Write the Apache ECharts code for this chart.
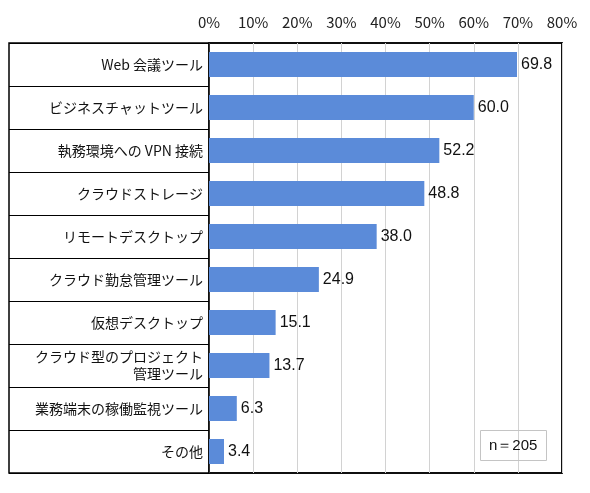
<!DOCTYPE html>
<html lang="ja">
<head>
    <meta charset="UTF-8">
    <title>テレワーク関連ツール</title>
    <script type="text/javascript" src="https://cdn.jsdelivr.net/npm/echarts@6/dist/echarts.min.js"></script>
    <style>
        html, body { margin: 0; padding: 0; background: #fff; }
        #chart { width: 590px; height: 493px; }
    </style>
</head>
<body>
<div id="chart"></div>
<script>
    // データ
    var categories = [
        'Web 会議ツール',
        'ビジネスチャットツール',
        '執務環境への VPN 接続',
        'クラウドストレージ',
        'リモートデスクトップ',
        'クラウド勤怠管理ツール',
        '仮想デスクトップ',
        'クラウド型のプロジェクト\n管理ツール',
        '業務端末の稼働監視ツール',
        'その他'
    ];
    var values = [69.8, 60.0, 52.2, 48.8, 38.0, 24.9, 15.1, 13.7, 6.3, 3.4];
    var xTicks = [0, 10, 20, 30, 40, 50, 60, 70, 80];
    var noteText = 'n＝205';

    var numFont = '"Liberation Sans Narrow", "Arial Narrow", "Liberation Sans", sans-serif';

    var chart = echarts.init(document.getElementById('chart'));
    var option = {
        animation: false,
        grid: {
            left: 209, right: 28, top: 43, bottom: 20,
            show: true, borderColor: '#000', borderWidth: 1.5
        },
        title: {
            text: noteText,
            left: 480, top: 430,
            padding: [8, 9],
            borderColor: '#c4c4c4', borderWidth: 1,
            textStyle: { fontSize: 15, fontWeight: 'normal', color: '#111', fontFamily: numFont }
        },
        xAxis: {
            type: 'value',
            position: 'top',
            min: xTicks[0], max: xTicks[xTicks.length - 1], interval: 10,
            axisLine: { show: false },
            axisTick: { show: false },
            splitLine: { lineStyle: { color: '#d2d2d2', width: 1 } },
            axisLabel: {
                formatter: '{value}%', margin: 13,
                fontSize: 15, color: '#222',
                fontFamily: 'Noto Sans CJK JP, sans-serif'
            }
        },
        yAxis: {
            type: 'category',
            inverse: true,
            data: categories,
            axisLine: { lineStyle: { color: '#000', width: 1.5 } },
            axisTick: { show: true, length: 200, interval: 0, lineStyle: { color: '#000', width: 1.2 } },
            axisLabel: {
                margin: 6, fontSize: 14, color: '#111', lineHeight: 17,
                align: 'right',
                fontFamily: 'Noto Sans CJK JP, sans-serif'
            }
        },
        graphic: [{
            type: 'rect',
            shape: { x: 9, y: 43, width: 553, height: 430 },
            style: { fill: 'none', stroke: '#000', lineWidth: 1.5 },
            silent: true
        }],
        series: [{
            type: 'bar',
            data: values,
            barWidth: 25,
            itemStyle: { color: '#5b8bd9' },
            label: {
                show: true, position: 'right', distance: 4,
                formatter: function (p) { return p.value.toFixed(1); },
                fontSize: 16, color: '#111',
                fontFamily: numFont
            }
        }]
    };
    chart.setOption(option);
</script>
</body>
</html>
